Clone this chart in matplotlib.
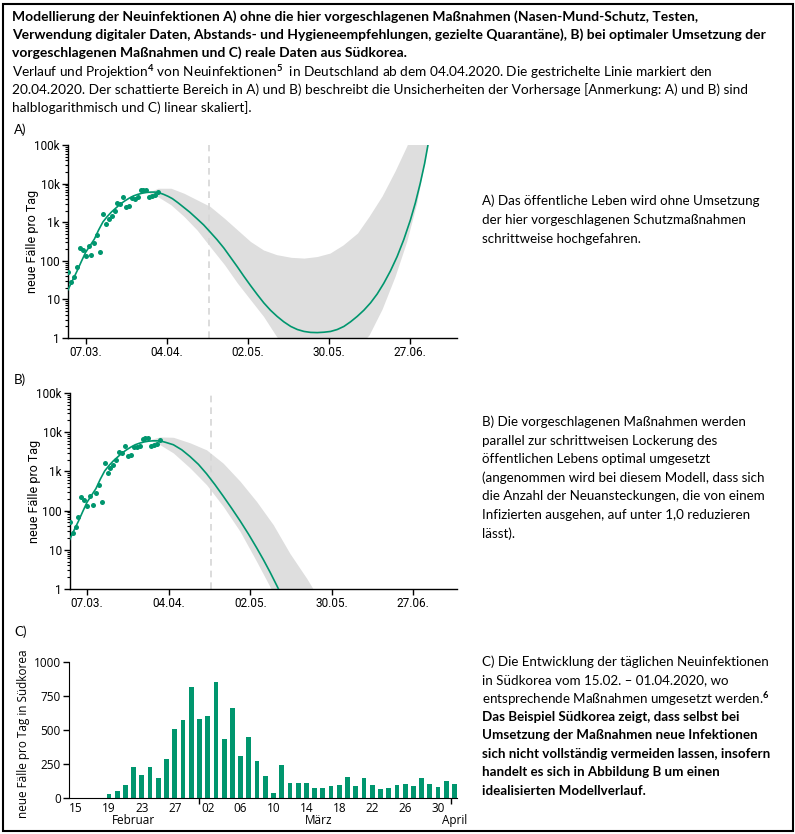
import matplotlib.pyplot as plt
import numpy as np
from matplotlib.patches import Rectangle
from matplotlib.ticker import FixedLocator, LogLocator, NullFormatter

GREEN = '#00966e'
BAND = '#dedede'
AXFONT = ['Liberation Sans Narrow', 'Roboto', 'DejaVu Sans']
TXTFONT = ['Lato', 'DejaVu Sans']
CFONT = ['Open Sans', 'DejaVu Sans']

plt.rcParams['mathtext.fontset'] = 'custom'
plt.rcParams['mathtext.rm'] = 'Lato'
plt.rcParams['mathtext.bf'] = 'Lato:bold'

# A) und B): Tage seit dem 07.03.2020, Werte als log10(neue Fälle pro Tag)
obs_days = [-6, -5, -4, -3, -2, -1, 0, 1, 2, 3, 4, 5, 6, 7, 8, 9, 10, 11, 12,
            13, 14, 15, 16, 17, 18, 19, 20, 21, 22, 23, 24, 25]
obs_log = [1.72, 1.44, 1.58, 1.83, 2.34, 2.27, 2.12, 2.38, 2.14, 2.45, 2.66, 2.22,
           3.21, 2.96, 3.09, 3.17, 3.30, 3.49, 3.47, 3.65, 3.39, 3.42, 3.62, 3.61,
           3.64, 3.83, 3.84, 3.84, 3.65, 3.68, 3.70, 3.79]

fitA_days = [-6.1, -4.5, -3, -1.5, 0, 1.5, 3, 4.5, 6, 7.5, 9, 10.5, 12, 13.5, 15,
             16.5, 18, 19.5, 21, 22.5, 24, 25.5, 27, 28.5, 30, 32, 34, 36, 38.5,
             40.8, 43, 45.4, 47.8, 50.1, 52.4, 54.7, 57, 59.3, 61.6, 63.9, 66.2,
             68.5, 70.9, 73.2, 75.5, 77.8, 80.1, 82.4, 84.7, 87, 89.3, 91.6, 93.9,
             96.2, 98.5, 100.8, 103.1, 105.4, 107.7, 110, 112.3, 114, 115.7, 117.2,
             118.6]
fitA_log = [1.25, 1.50, 1.73, 1.98, 2.22, 2.39, 2.56, 2.80, 3.01, 3.15, 3.27, 3.37,
            3.47, 3.55, 3.62, 3.68, 3.72, 3.75, 3.77, 3.78, 3.78, 3.76, 3.72, 3.67,
            3.61, 3.50, 3.38, 3.26, 3.09, 2.93, 2.75, 2.55, 2.33, 2.09, 1.85, 1.60,
            1.36, 1.13, 0.91, 0.72, 0.56, 0.42, 0.30, 0.22, 0.17, 0.145, 0.14, 0.15,
            0.17, 0.22, 0.30, 0.42, 0.56, 0.72, 0.91, 1.14, 1.42, 1.74, 2.11, 2.55,
            3.06, 3.50, 4.01, 4.52, 5.1]
bandA_days = [22, 25, 29.5, 34, 38.5, 43, 48, 52.5, 57, 61.5, 66, 71, 75.5, 80, 84.5,
              89, 94, 98, 102.5, 107, 111, 114.5, 118, 121]
bandA_hi = [3.78, 3.88, 3.88, 3.75, 3.58, 3.41, 3.10, 2.80, 2.50, 2.28, 2.16, 2.09,
            2.07, 2.11, 2.20, 2.41, 2.72, 3.15, 3.68, 4.33, 4.97, 5.6, 6.2, 6.7]
bandA_lo = [3.72, 3.66, 3.45, 3.15, 2.80, 2.37, 1.90, 1.42, 0.99, 0.56, 0.04, -0.4,
            -0.7, -0.8, -0.7, -0.5, -0.25, 0.08, 0.75, 1.6, 2.5, 3.5, 4.9, 5.9]

fitB_days = [-6.1, -4.5, -3, -1.5, 0, 1.5, 3, 4.5, 6, 7.5, 9, 10.5, 12, 13.5, 15,
             16.5, 18, 19.5, 21, 22.5, 24, 25.5, 27, 29.6, 32.5, 35.3, 38.2, 41,
             43.9, 46.7, 49.6, 52.5, 55.4, 58.2, 60.5, 62.8, 65.1, 67]
fitB_log = [1.25, 1.50, 1.73, 1.98, 2.22, 2.39, 2.56, 2.80, 3.01, 3.15, 3.27, 3.37,
            3.47, 3.55, 3.62, 3.68, 3.72, 3.75, 3.77, 3.78, 3.78, 3.77, 3.74, 3.68,
            3.55, 3.38, 3.18, 2.94, 2.66, 2.37, 2.06, 1.74, 1.40, 1.05, 0.75, 0.43,
            0.09, -0.2]
bandB_days = [22, 25, 29.6, 35.3, 41, 46.7, 52.5, 58.2, 63.9, 69.6, 75.4, 78, 80]
bandB_hi = [3.82, 3.88, 3.87, 3.73, 3.55, 3.21, 2.75, 2.23, 1.64, 0.91, 0.27, -0.05, -0.3]
bandB_lo = [3.78, 3.68, 3.47, 3.09, 2.66, 2.11, 1.47, 0.70, -0.1, -0.9, -1.6, -2.0, -2.2]

marker_day = 42.6  # gestrichelte Linie (20.04.)
date_ticks = [0, 28, 56, 84, 112]
date_labels = ['07.03.', '04.04.', '02.05.', '30.05.', '27.06.']
log_ticks = [1, 10, 100, 1000, 10000, 100000]
log_labels = ['1', '10', '100', '1k', '10k', '100k']

# C) Südkorea, 15.02. - 01.04.2020 (Index 0 = 15.02.)
korea_cases = [0, 0, 0, 0, 29, 51, 95, 227, 169, 227, 149, 286, 506, 572, 814,
               579, 601, 851, 433, 660, 308, 447, 271, 161, 37, 242, 110, 110, 110,
               73, 73, 88, 95, 154, 88, 147, 95, 66, 73, 95, 103, 88, 147, 103, 81,
               125, 103]
korea_ticks = [0, 4, 8, 12, 16, 20, 24, 28, 32, 36, 40, 44]
korea_labels = ['15', '19', '23', '27', '02', '06', '10', '14', '18', '22', '26', '30']
months = ['Februar', 'März', 'April']
month_pos = [7, 29.5, 46]

header_bold = [
    'Modellierung der Neuinfektionen A) ohne die hier vorgeschlagenen Maßnahmen (Nasen-Mund-Schutz, Testen,',
    'Verwendung digitaler Daten, Abstands- und Hygieneempfehlungen, gezielte Quarantäne), B) bei optimaler Umsetzung der',
    'vorgeschlagenen Maßnahmen und C) reale Daten aus Südkorea.',
]
header_norm = [
    r'Verlauf und Projektion$^{\mathbf{4}}$ von Neuinfektionen$^{\mathbf{5}}$  in Deutschland ab dem 04.04.2020. Die gestrichelte Linie markiert den',
    '20.04.2020. Der schattierte Bereich in A) und B) beschreibt die Unsicherheiten der Vorhersage [Anmerkung: A) und B) sind',
    'halblogarithmisch und C) linear skaliert].',
]
textA = ['A) Das öffentliche Leben wird ohne Umsetzung',
         'der hier vorgeschlagenen Schutzmaßnahmen',
         'schrittweise hochgefahren.']
textB = ['B) Die vorgeschlagenen Maßnahmen werden',
         'parallel zur schrittweisen Lockerung des',
         'öffentlichen Lebens optimal umgesetzt',
         '(angenommen wird bei diesem Modell, dass sich',
         'die Anzahl der Neuansteckungen, die von einem',
         'Infizierten ausgehen, auf unter 1,0 reduzieren',
         'lässt).']
textC_norm = ['C) Die Entwicklung der täglichen Neuinfektionen',
              'in Südkorea vom 15.02. \u2013 01.04.2020, wo',
              r'entsprechende Maßnahmen umgesetzt werden.$^{\mathbf{6}}$']
textC_bold = ['Das Beispiel Südkorea zeigt, dass selbst bei',
              'Umsetzung der Maßnahmen neue Infektionen',
              'sich nicht vollständig vermeiden lassen, insofern',
              'handelt es sich in Abbildung B um einen',
              'idealisierten Modellverlauf.']

W, H = 795, 834
fig = plt.figure(figsize=(W / 100, H / 100), dpi=100)


def px(x0, y0, x1, y1):
    # pixel box (left, top, right, bottom) -> figure coords
    return [x0 / W, 1 - y1 / H, (x1 - x0) / W, (y1 - y0) / H]


def log_panel(ax, fit_d, fit_l, band_d, band_hi, band_lo, xlim):
    ax.fill_between(band_d, 10 ** np.array(band_lo), 10 ** np.array(band_hi),
                    color=BAND, lw=0, zorder=1)
    ax.axvline(marker_day, color='#d6d6d6', lw=1.2, ls=(0, (4, 3)), zorder=2)
    ax.plot(fit_d, 10 ** np.array(fit_l), color=GREEN, lw=1.2, zorder=3)
    ax.scatter(obs_days, 10 ** np.array(obs_log), s=13, color=GREEN, lw=0, zorder=4)
    ax.set_yscale('log')
    ax.set_ylim(1, 1e5)
    ax.set_xlim(*xlim)
    ax.yaxis.set_major_locator(FixedLocator(log_ticks))
    ax.set_yticklabels(log_labels)
    ax.yaxis.set_minor_locator(LogLocator(base=10, subs=np.arange(2, 10)))
    ax.yaxis.set_minor_formatter(NullFormatter())
    ax.set_xticks(date_ticks)
    ax.set_xticklabels(date_labels)
    for s in ['top', 'right']:
        ax.spines[s].set_visible(False)
    for s in ['left', 'bottom']:
        ax.spines[s].set_linewidth(1.0)
    ax.tick_params(axis='both', which='major', length=4, width=1, labelsize=8.5, pad=2)
    ax.tick_params(axis='y', which='minor', length=2, width=0.8)
    for lab in ax.get_xticklabels() + ax.get_yticklabels():
        lab.set_family(AXFONT)
    ax.set_ylabel('neue Fälle pro Tag', family=AXFONT, fontsize=9)
    ax.yaxis.set_label_coords(-0.075, 0.5)


axA = fig.add_axes(px(68, 145, 457, 338))
log_panel(axA, fitA_days, fitA_log, bandA_days, bandA_hi, bandA_lo, (-6.1, 128.4))
axB = fig.add_axes(px(70, 393, 457, 589))
log_panel(axB, fitB_days, fitB_log, bandB_days, bandB_hi, bandB_lo, (-5.9, 127))

axC = fig.add_axes(px(69, 662, 457, 798))
axC.bar(range(len(korea_cases)), korea_cases, width=0.58, color=GREEN)
axC.set_xlim(-0.85, 46.3)
axC.set_ylim(0, 1000)
axC.set_yticks([0, 250, 500, 750, 1000])
axC.set_xticks([15, 45.6])
axC.set_xticklabels([])
axC.set_xticks(korea_ticks, minor=True)
axC.set_xticklabels(korea_labels, minor=True)
axC.tick_params(axis='x', which='major', length=4, width=1)
axC.tick_params(axis='x', which='minor', length=0, pad=3, labelsize=8.5)
axC.tick_params(axis='y', length=4, width=1, labelsize=8.5, pad=2)
for s in ['top', 'right']:
    axC.spines[s].set_visible(False)
for lab in axC.get_xticklabels(minor=True) + axC.get_yticklabels():
    lab.set_family(CFONT)
for m, p in zip(months, month_pos):
    axC.text(p, -0.12, m, transform=axC.get_xaxis_transform(), ha='center', va='top',
             fontsize=8.5, family=CFONT)
axC.set_ylabel('neue Fälle pro Tag in Südkorea', fontsize=8.5, family=CFONT)
axC.yaxis.set_label_coords(-0.1, 0.47)

# Texte
for i, line in enumerate(header_bold):
    fig.text(12 / W, 1 - (17 + 18 * i) / H, line, fontsize=10, fontweight='bold',
             family=TXTFONT, va='center')
for i, line in enumerate(header_norm):
    fig.text(12 / W, 1 - (72 + 18 * i) / H, line, fontsize=9.8, family=TXTFONT, va='center')

for lab, y in [('A)', 130), ('B)', 380), ('C)', 632)]:
    fig.text(14 / W, 1 - y / H, lab, fontsize=9.6, family=TXTFONT, va='center')

for i, line in enumerate(textA):
    fig.text(482 / W, 1 - (201 + 19 * i) / H, line, fontsize=9.6, family=TXTFONT, va='center')
for i, line in enumerate(textB):
    fig.text(482 / W, 1 - (422 + 18.6 * i) / H, line, fontsize=9.6, family=TXTFONT, va='center')
for i, line in enumerate(textC_norm):
    fig.text(482 / W, 1 - (662 + 18.4 * i) / H, line, fontsize=9.6, family=TXTFONT, va='center')
for i, line in enumerate(textC_bold):
    fig.text(482 / W, 1 - (717 + 18.4 * i) / H, line, fontsize=9.6, fontweight='bold',
             family=TXTFONT, va='center')

fig.patches.append(Rectangle((2.5 / W, 3.5 / H), (W - 5) / W, (H - 7) / H,
                             transform=fig.transFigure, fill=False, ec='black', lw=1.5))

fig.savefig('out.png', dpi=100)
